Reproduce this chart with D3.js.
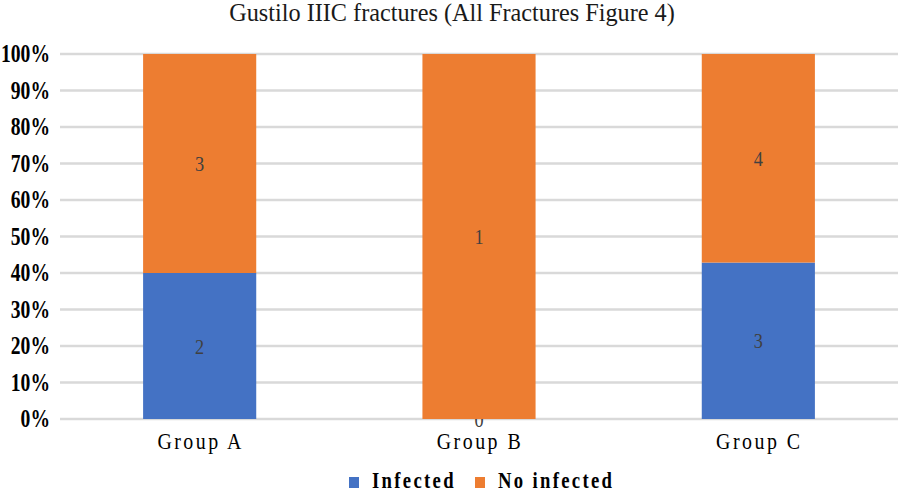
<!DOCTYPE html>
<html>
<head>
<meta charset="utf-8">
<script src="https://cdn.jsdelivr.net/npm/d3@7"></script>
<style>
  body { margin: 0; background: #fff; }
  svg text { font-family: "Liberation Serif", "DejaVu Serif", "Times New Roman", serif; }
</style>
</head>
<body>
<svg width="904" height="492"></svg>
<script>
let groups = ["Group A", "Group B", "Group C"];
let infected = [2, 0, 3];
let noInfected = [3, 1, 4];
let seriesNames = ["Infected", "No infected"];
let colors = ["#4472C4", "#ED7D31"];
let yTicks = [0, 0.1, 0.2, 0.3, 0.4, 0.5, 0.6, 0.7, 0.8, 0.9, 1];

let svg = d3.select("svg");
let sx = 0.83; // horizontal squash seen in the reference text
let serif = "Liberation Serif, DejaVu Serif, Times New Roman, serif";

let rows = groups.map((g, i) => ({
    group: g,
    Infected: infected[i],
    "No infected": noInfected[i]
}));

let stack = d3.stack().keys(seriesNames).offset(d3.stackOffsetExpand);
let layers = stack(rows);

let x = d3.scaleBand()
    .domain(groups)
    .range([60, 898])
    .paddingInner(0.595)
    .paddingOuter(0.2975);

let y = d3.scaleLinear().domain([0, 1]).range([419, 54]);

// helper: squashed text at a point
function squashed(sel, px, py, s = sx) {
    return sel.attr("transform", `translate(${px},${py}) scale(${s},1)`)
        .attr("font-family", serif);
}

// title
squashed(svg.append("text"), 452, 21, 0.99)
    .attr("text-anchor", "middle")
    .attr("font-size", 24.5)
    .attr("fill", "#1a1a1a")
    .text("Gustilo IIIC fractures (All Fractures Figure 4)");

// gridlines
svg.append("g")
    .selectAll("line")
    .data(yTicks)
    .enter()
    .append("line")
    .attr("x1", 60)
    .attr("x2", 898)
    .attr("y1", (d) => y(d))
    .attr("y2", (d) => y(d))
    .attr("stroke", "#d9d9d9")
    .attr("stroke-width", 2.5);

// y tick labels
svg.append("g")
    .selectAll("text")
    .data(yTicks)
    .enter()
    .append("text")
    .each(function (d) {
        squashed(d3.select(this), 50, y(d) + 8, 0.8);
    })
    .attr("text-anchor", "end")
    .attr("font-size", 24.5)
    .attr("font-weight", "bold")
    .attr("fill", "#000")
    .text((d) => d3.format(".0%")(d));

// bars
let layer = svg.append("g")
    .selectAll("g")
    .data(layers)
    .enter()
    .append("g")
    .attr("fill", (d, i) => colors[i]);

layer.selectAll("rect")
    .data((d) => d)
    .enter()
    .append("rect")
    .attr("x", (d) => x(d.data.group))
    .attr("width", x.bandwidth())
    .attr("y", (d) => y(d[1]))
    .attr("height", (d) => y(d[0]) - y(d[1]));

// data labels
layer.each(function (L) {
    d3.select(this).selectAll("text")
        .data(L)
        .enter()
        .append("text")
        .each(function (d) {
            let cx = x(d.data.group) + x.bandwidth() / 2;
            let cy = y((d[0] + d[1]) / 2) + 7.5;
            squashed(d3.select(this), cx, cy);
        })
        .attr("text-anchor", "middle")
        .attr("font-size", 22)
        .attr("fill", "#404040")
        .text((d) => d.data[L.key]);
});

// category labels
svg.append("g")
    .selectAll("text")
    .data(groups)
    .enter()
    .append("text")
    .each(function (g) {
        squashed(d3.select(this), x(g) + x.bandwidth() / 2 + 1, 449);
    })
    .attr("text-anchor", "middle")
    .attr("font-size", 24)
    .attr("letter-spacing", 3)
    .attr("fill", "#000")
    .text((d) => d);

// legend
let legendX = [349, 475];
let legend = svg.append("g")
    .selectAll("g")
    .data(seriesNames)
    .enter()
    .append("g");

legend.append("rect")
    .attr("x", (d, i) => legendX[i])
    .attr("y", 477)
    .attr("width", 10)
    .attr("height", 11)
    .attr("fill", (d, i) => colors[i]);

legend.append("text")
    .each(function (d, i) {
        squashed(d3.select(this), legendX[i] + 23, 488);
    })
    .attr("font-size", 22.5)
    .attr("font-weight", "bold")
    .attr("letter-spacing", 2.8)
    .attr("fill", "#000")
    .text((d) => d);
</script>
</body>
</html>
